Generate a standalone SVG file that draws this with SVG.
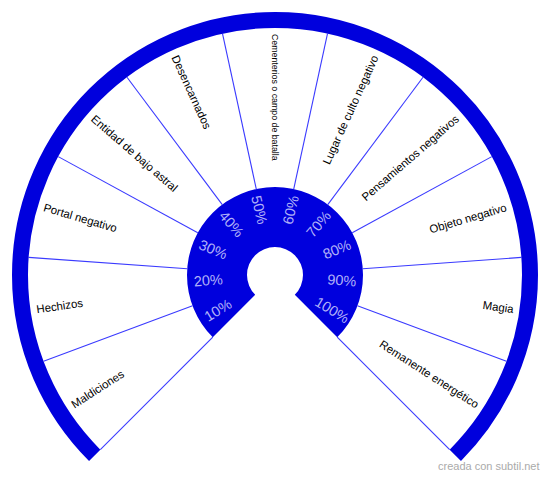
<svg xmlns="http://www.w3.org/2000/svg" width="550" height="477" viewBox="0 0 550 477">
<style>
.band{fill:none;stroke:#0000dd;stroke-width:16}
.ring{fill:#0000dd}
.div{stroke:#3a3aff;stroke-width:1.1}
.lbl{font-family:"Liberation Sans",Arial,sans-serif;font-size:11.4px;fill:#000}
.pct{font-family:"Liberation Sans",Arial,sans-serif;font-size:14.5px;fill:#b0b0f8;text-anchor:middle}
.wm{font-family:"Liberation Sans",Arial,sans-serif;font-size:11px;fill:#aaaaaa}
</style>
<rect width="550" height="477" fill="#fff"/>
<g id="connectors">
<line class="div" x1="212.78" y1="337.23" x2="100.34" y2="449.66"/>
<line class="div" x1="192.55" y1="305.75" x2="43.57" y2="361.32"/>
<line class="div" x1="187.22" y1="268.72" x2="28.63" y2="257.38"/>
<line class="div" x1="197.76" y1="232.83" x2="58.21" y2="156.63"/>
<line class="div" x1="222.26" y1="204.55" x2="126.98" y2="77.27"/>
<line class="div" x1="256.29" y1="189.01" x2="222.50" y2="33.64"/>
<line class="div" x1="293.71" y1="189.01" x2="327.50" y2="33.64"/>
<line class="div" x1="327.74" y1="204.55" x2="423.02" y2="77.27"/>
<line class="div" x1="352.24" y1="232.83" x2="491.79" y2="156.63"/>
<line class="div" x1="362.78" y1="268.72" x2="521.37" y2="257.38"/>
<line class="div" x1="357.45" y1="305.75" x2="506.43" y2="361.32"/>
<line class="div" x1="337.22" y1="337.23" x2="449.66" y2="449.66"/>
</g>
<g id="outer-band">
<path class="band" d="M 94.69 455.31 A 255 255 0 1 1 455.31 455.31"/>
</g>
<g id="inner-ring">
<path class="ring" d="M 212.77 337.23 A 88 88 0 1 1 337.23 337.23 L 294.80 294.80 A 28 28 0 1 0 255.20 294.80 Z"/>
<text class="pct" dy="0.35em" transform="translate(217.87 310.01) rotate(-31.5)">10%</text>
<text class="pct" dy="0.35em" transform="translate(208.21 280.26) rotate(-4.5)">20%</text>
<text class="pct" dy="0.35em" transform="translate(213.10 249.36) rotate(22.5)">30%</text>
<text class="pct" dy="0.35em" transform="translate(231.49 224.05) rotate(49.5)">40%</text>
<text class="pct" dy="0.35em" transform="translate(259.36 209.85) rotate(76.5)">50%</text>
<text class="pct" dy="0.35em" transform="translate(290.64 209.85) rotate(-76.5)">60%</text>
<text class="pct" dy="0.35em" transform="translate(318.51 224.05) rotate(-49.5)">70%</text>
<text class="pct" dy="0.35em" transform="translate(336.90 249.36) rotate(-22.5)">80%</text>
<text class="pct" dy="0.35em" transform="translate(341.79 280.26) rotate(4.5)">90%</text>
<text class="pct" dy="0.35em" transform="translate(332.13 310.01) rotate(31.5)">100%</text>
</g>
<g id="s0"><text class="lbl" dy="0.35em" transform="translate(72.26 405.29) rotate(-32.727)">Maldiciones</text></g>
<g id="s1"><text class="lbl" dy="0.35em" transform="translate(36.45 309.30) rotate(-8.182)">Hechizos</text></g>
<g id="s2"><text class="lbl" dy="0.35em" transform="translate(43.76 207.10) rotate(16.364)">Portal negativo</text></g>
<g id="s3"><text class="lbl" dy="0.35em" transform="translate(92.86 117.18) rotate(40.909)">Entidad de bajo astral</text></g>
<g id="s4"><text class="lbl" dy="0.35em" transform="translate(174.88 55.78) rotate(65.455)">Desencarnados</text></g>
<g id="s5"><text class="lbl" dy="0.35em" style="font-size:8.8px" transform="translate(275 34) rotate(90)">Cementerios o campo de batalla</text></g>
<g id="s6"><text class="lbl" dy="0.35em" text-anchor="end" transform="translate(375.12 55.78) rotate(-65.455)">Lugar de culto negativo</text></g>
<g id="s7"><text class="lbl" dy="0.35em" text-anchor="end" transform="translate(457.14 117.18) rotate(-40.909)">Pensamientos negativos</text></g>
<g id="s8"><text class="lbl" dy="0.35em" text-anchor="end" transform="translate(506.24 207.10) rotate(-16.364)">Objeto negativo</text></g>
<g id="s9"><text class="lbl" dy="0.35em" text-anchor="end" transform="translate(513.55 309.30) rotate(8.182)">Magia</text></g>
<g id="s10"><text class="lbl" dy="0.35em" text-anchor="end" transform="translate(477.74 405.29) rotate(32.727)">Remanente energético</text></g>
<text class="wm" x="438" y="470">creada con subtil.net</text>
</svg>
